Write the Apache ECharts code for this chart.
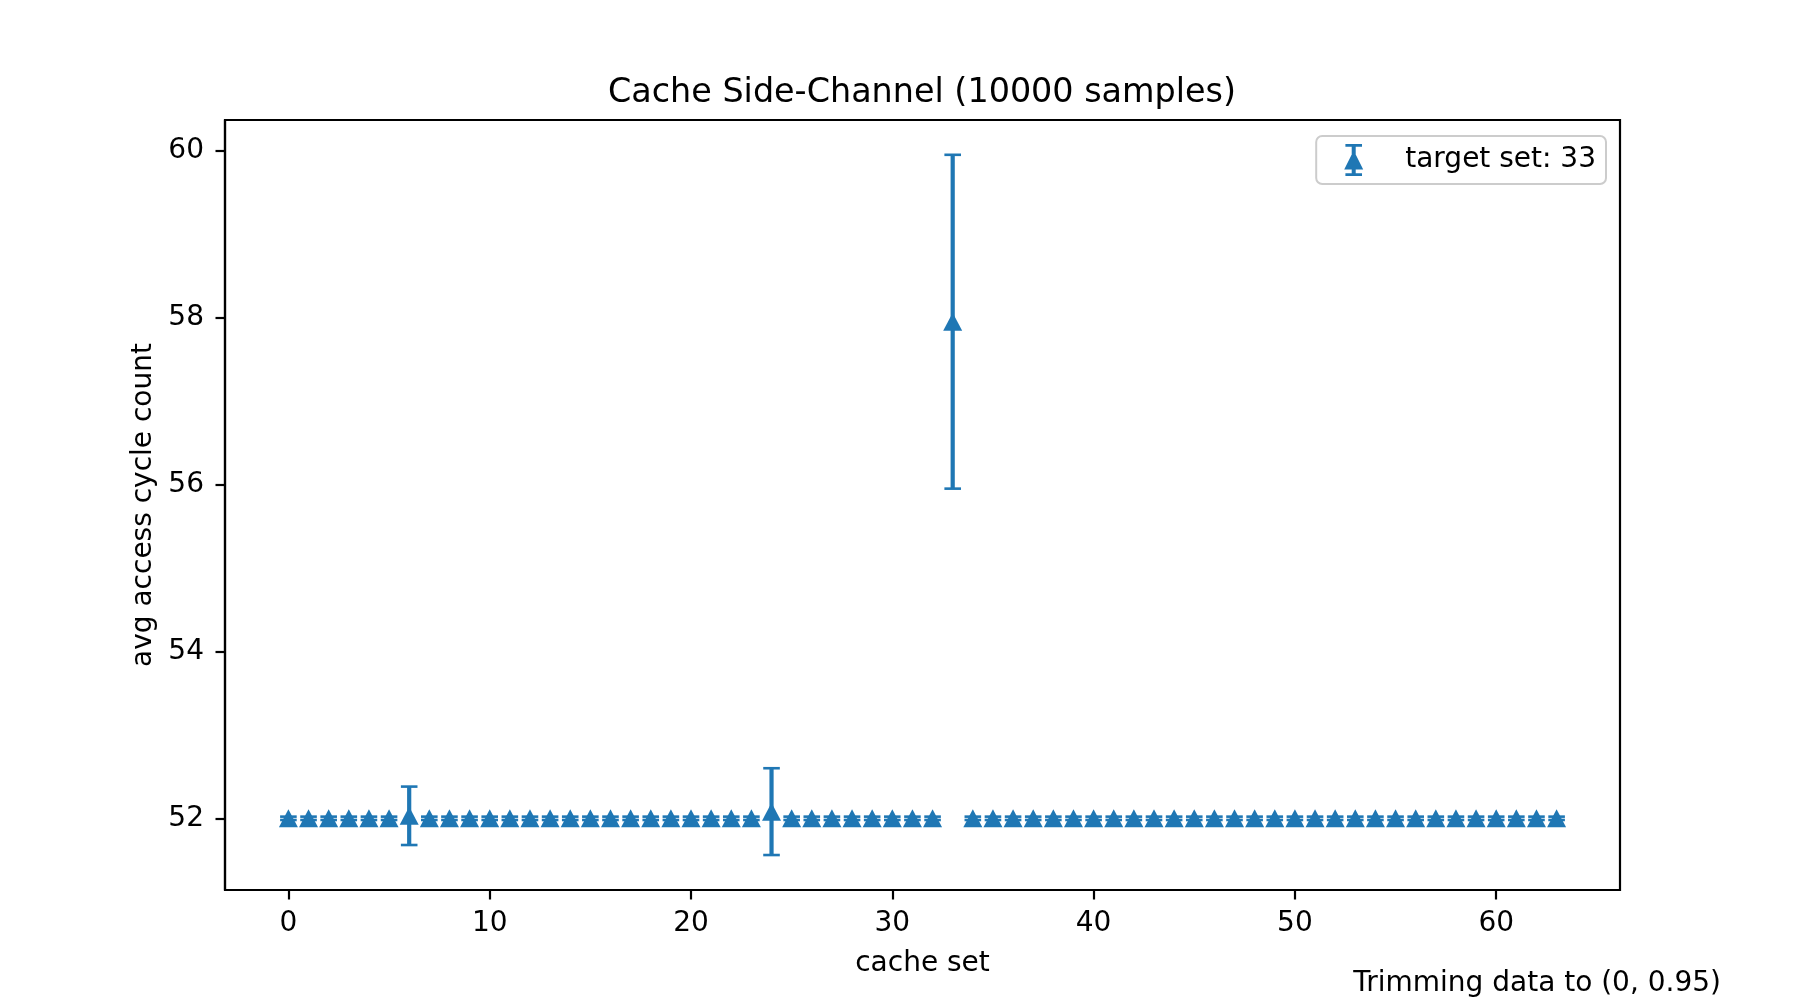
<!DOCTYPE html>
<html>
<head>
<meta charset="utf-8">
<script src="https://cdn.jsdelivr.net/npm/echarts@6/dist/echarts.min.js"></script>
<style>html,body{margin:0;padding:0;background:#fff;}#chart{width:1800px;height:1000px;}</style>
</head>
<body>
<div id="chart"></div>
<script>
// ---- data ----
var cacheSets = [0,1,2,3,4,5,6,7,8,9,10,11,12,13,14,15,16,17,18,19,20,21,22,23,24,25,26,27,28,29,30,31,
                 32,33,34,35,36,37,38,39,40,41,42,43,44,45,46,47,48,49,50,51,52,53,54,55,56,57,58,59,60,61,62,63];
var avgCycles = [52.0,52.0,52.0,52.0,52.0,52.0,52.03,52.0,52.0,52.0,52.0,52.0,52.0,52.0,52.0,52.0,
                 52.0,52.0,52.0,52.0,52.0,52.0,52.0,52.0,52.08,52.0,52.0,52.0,52.0,52.0,52.0,52.0,
                 52.0,57.95,52.0,52.0,52.0,52.0,52.0,52.0,52.0,52.0,52.0,52.0,52.0,52.0,52.0,52.0,
                 52.0,52.0,52.0,52.0,52.0,52.0,52.0,52.0,52.0,52.0,52.0,52.0,52.0,52.0,52.0,52.0];
var errors =    [0.02,0.02,0.02,0.02,0.02,0.02,0.35,0.02,0.02,0.02,0.02,0.02,0.02,0.02,0.02,0.02,
                 0.02,0.02,0.02,0.02,0.02,0.02,0.02,0.02,0.52,0.02,0.02,0.02,0.02,0.02,0.02,0.02,
                 0.02,2.00,0.02,0.02,0.02,0.02,0.02,0.02,0.02,0.02,0.02,0.02,0.02,0.02,0.02,0.02,
                 0.02,0.02,0.02,0.02,0.02,0.02,0.02,0.02,0.02,0.02,0.02,0.02,0.02,0.02,0.02,0.02];
var xTicks = [0,10,20,30,40,50,60];
var yTicks = [52,54,56,58,60];
var seriesName = 'target set: 33';
var titleText = 'Cache Side-Channel (10000 samples)';
var noteText = 'Trimming data to (0, 0.95)';

var color = '#1f77b4';
var font = 'DejaVu Sans';
var points = cacheSets.map(function (x, i) { return [x, avgCycles[i], errors[i]]; });

var chart = echarts.init(document.getElementById('chart'), null, {renderer: 'canvas'});
chart.setOption({
  backgroundColor: '#ffffff',
  animation: false,
  textStyle: {fontFamily: font},
  title: [
    {text: titleText, left: 922, top: 77, textAlign: 'center', padding: 0,
     textStyle: {fontFamily: font, fontSize: 33.4, fontWeight: 'normal', color: '#000'}},
    {text: noteText, right: 79, top: 970, padding: 0,
     textStyle: {fontFamily: font, fontSize: 28, fontWeight: 'normal', color: '#000'}}
  ],
  legend: {
    right: 194, top: 136,
    data: [{name: seriesName,
            icon: 'path://M1.7,0 L18.3,0 L18.3,2.8 L1.7,2.8 Z M8,0 L12,0 L12,32 L8,32 Z M1.7,29.2 L18.3,29.2 L18.3,32 L1.7,32 Z M10,6.5 L19.5,25.5 L0.5,25.5 Z'}],
    itemWidth: 93, itemHeight: 32,
    borderColor: '#cccccc', borderWidth: 2, borderRadius: 6,
    padding: [8, 10, 8, 28],
    backgroundColor: 'rgba(255,255,255,0.8)',
    textStyle: {fontFamily: font, fontSize: 28, color: '#000'}
  },
  grid: {left: 225, right: 180, top: 120, bottom: 110, show: true,
         borderColor: '#000', borderWidth: 2.2, backgroundColor: 'transparent'},
  xAxis: {
    type: 'value', min: -3.15, max: 66.15,
    name: 'cache set', nameLocation: 'middle', nameGap: 60,
    nameTextStyle: {fontFamily: font, fontSize: 28, color: '#000'},
    axisLine: {show: true, onZero: false, lineStyle: {color: '#000', width: 2.2}},
    axisTick: {show: true, length: 9.5, lineStyle: {color: '#000', width: 2.2}, customValues: xTicks},
    axisLabel: {fontFamily: font, fontSize: 28, color: '#000', margin: 20, customValues: xTicks},
    splitLine: {show: false}
  },
  yAxis: {
    type: 'value', min: 51.141, max: 60.367,
    name: 'avg access cycle count', nameLocation: 'middle', nameGap: 64,
    nameTextStyle: {fontFamily: font, fontSize: 28, color: '#000'},
    axisLine: {show: true, onZero: false, lineStyle: {color: '#000', width: 2.2}},
    axisTick: {show: true, length: 9.5, lineStyle: {color: '#000', width: 2.2}, customValues: yTicks},
    axisLabel: {fontFamily: font, fontSize: 28, color: '#000', margin: 21, customValues: yTicks},
    splitLine: {show: false}
  },
  series: [
    {
      type: 'custom', name: 'errorbars', z: 2, silent: true,
      data: points,
      encode: {x: 0, y: 1},
      renderItem: function (params, api) {
        var x = api.value(0), y = api.value(1), e = api.value(2);
        var top = api.coord([x, y + e]);
        var bot = api.coord([x, y - e]);
        var hw = 8.3;
        return {
          type: 'group',
          children: [
            {type: 'line', shape: {x1: top[0], y1: top[1], x2: bot[0], y2: bot[1]},
             style: {stroke: color, lineWidth: 4.2}},
            {type: 'line', shape: {x1: top[0] - hw, y1: top[1], x2: top[0] + hw, y2: top[1]},
             style: {stroke: color, lineWidth: 2.6}},
            {type: 'line', shape: {x1: bot[0] - hw, y1: bot[1], x2: bot[0] + hw, y2: bot[1]},
             style: {stroke: color, lineWidth: 2.6}}
          ]
        };
      }
    },
    {
      type: 'scatter', name: seriesName, z: 3,
      data: points, encode: {x: 0, y: 1},
      symbol: 'triangle', symbolSize: [19, 18],
      itemStyle: {color: color, opacity: 1}
    }
  ]
});
</script>
</body>
</html>
